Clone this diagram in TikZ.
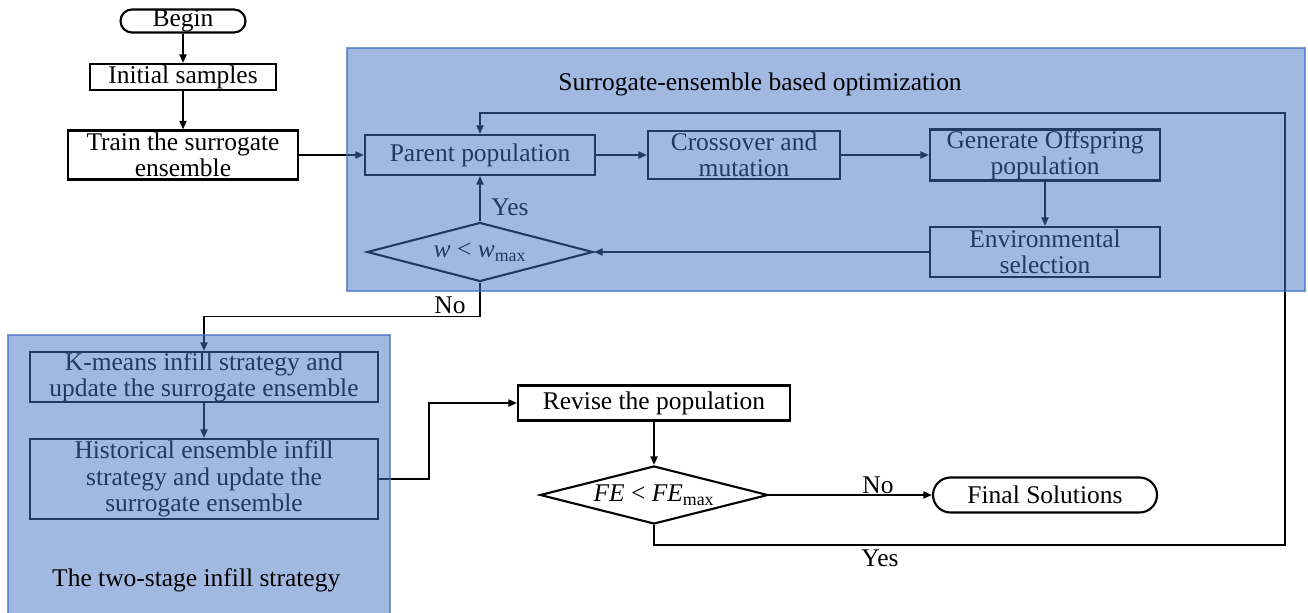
\documentclass[tikz,border=0pt]{standalone}
\usepackage{fontspec}
\setmainfont{Liberation Serif}
\usetikzlibrary{arrows.meta,shapes.geometric,shapes.misc}
\definecolor{officeblue}{HTML}{4472C4}

\begin{document}
\begin{tikzpicture}[
    x=0.2mm,y=-0.2mm,
    >={Triangle[length=1.7mm,width=1.4mm]},
    font=\fontsize{14.5}{15}\selectfont,
    box/.style={draw,line width=1.2pt,align=center,inner sep=0pt},
    term/.style={box,rounded rectangle,minimum height=4.6mm},
    decide/.style={box,diamond,aspect=3.9},
    arr/.style={->,line width=1pt},
    region/.style={fill=officeblue,fill opacity=0.5,draw=officeblue,draw opacity=0.7,line width=1pt},
]
\useasboundingbox (0,0) rectangle (1308,613);

% start of the flow
\node[term,minimum width=25mm] (begin) at (183,21) {Begin};
\node[box,minimum width=37.2mm,minimum height=5.2mm] (init) at (183,77) {Initial samples};
\node[box,minimum width=46mm,minimum height=9.8mm] (train) at (183,155) {Train the surrogate\\ensemble};

% optimization loop
\node[box,minimum width=46mm,minimum height=8mm] (parent) at (480,155) {Parent population};
\node[box,minimum width=38.4mm,minimum height=9.6mm] (cross) at (744,155) {Crossover and\\mutation};
\node[box,minimum width=46mm,minimum height=10.2mm] (offspring) at (1045,155) {Generate Offspring\\population};
\node[box,minimum width=46mm,minimum height=10mm] (envsel) at (1045,252) {Environmental\\selection};
\node[decide,minimum width=45.2mm,minimum height=11.8mm] (wcheck) at (480,252) {\textit{w} < \textit{w}\textsubscript{max}};

% infill stage
\node[box,minimum width=69.6mm,minimum height=10mm] (kmeans) at (204,377) {K-means infill strategy and\\update the surrogate ensemble};
\node[box,minimum width=69.6mm,minimum height=16mm] (hist) at (204,479) {Historical ensemble infill\\strategy and update the\\surrogate ensemble};

% end of the flow
\node[box,minimum width=54.4mm,minimum height=7mm] (revise) at (654,403) {Revise the population};
\node[decide,minimum width=45.6mm,minimum height=11.6mm] (fecheck) at (654,495) {\textit{FE} < \textit{FE}\textsubscript{max}};
\node[term,minimum width=44.8mm,minimum height=7mm] (final) at (1045,495) {Final Solutions};

\coordinate (loopbot) at (1285,545);
\coordinate (looptop) at (1285,113);

% connectors
\draw[arr] (begin) -- (init);
\draw[arr] (init) -- (train);
\draw[arr] (train) -- (parent);
\draw[arr] (parent) -- (cross);
\draw[arr] (cross) -- (offspring);
\draw[arr] (offspring) -- (envsel);
\draw[arr] (envsel) -- (wcheck);
\draw[arr] (wcheck) -- (parent);
\draw[arr] (wcheck.south) -- ++(0,34) -| (kmeans.north);
\draw[arr] (kmeans) -- (hist);
\draw[arr] (hist.east) -- ++(50,0) |- (revise.west);
\draw[arr] (revise) -- (fecheck);
\draw[arr] (fecheck) -- (final);
\draw[arr] (fecheck.south) |- (loopbot) -- (looptop) -| (parent.north);

\node (yes1) at (510,207) {Yes};
\node (no1) at (450,305) {No};
\node (no2) at (878,485) {No};
\node (yes2) at (880,558) {Yes};

% shaded regions on top
\draw[region] (347,48) rectangle (1305,291);
\draw[region] (8,335) rectangle (390,620);
\node (optlabel) at (760,84) {Surrogate-ensemble based optimization};
\node[anchor=west] (infilllabel) at (46,580) {The two-stage infill strategy};
\end{tikzpicture}
\end{document}
